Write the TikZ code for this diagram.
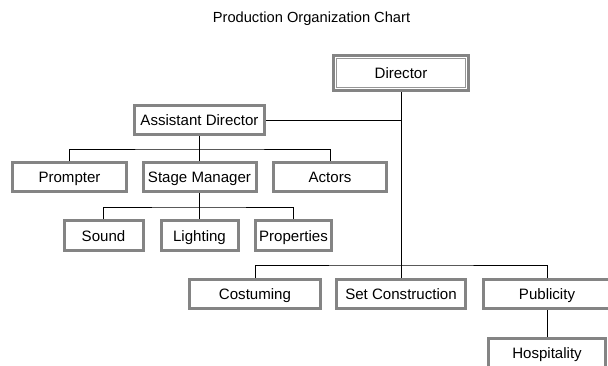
\documentclass[tikz,border=0pt]{standalone}
\usepackage{fontspec}
\setmainfont{Liberation Sans}
\definecolor{boxgray}{RGB}{132,132,132}
\tikzset{
  orgbox/.style={draw=boxgray, line width=2.25pt, fill=white, inner sep=0pt,
    text height=8.6pt, text depth=0pt,
    minimum height=21.75pt, font=\fontsize{11.3}{13}\selectfont},
  frameline/.style={draw=boxgray!85, line width=0.75pt, inner sep=0pt},
  link/.style={draw=black, line width=0.75pt}
}
\begin{document}
\begin{tikzpicture}[x=0.75pt,y=0.75pt,yscale=-1,xscale=1]
\useasboundingbox (0,0) rectangle (608,365);

% Title
\node (title) at (311.5,19) {\fontsize{11}{13}\selectfont Production Organization Chart};

% Director
\node [orgbox, minimum width=101.25pt, minimum height=26.25pt] (director) at (401,73) {Director};
\node [frameline, minimum width=96.75pt, minimum height=21.75pt] (directorframe) at (401,73) {};

% Assistant Director and its branch
\node [orgbox, minimum width=97.5pt] (assistant) at (199.5,120) {Assistant Director};
\node [orgbox, minimum width=85.5pt] (prompter) at (69.5,177) {Prompter};
\node [orgbox, minimum width=84.75pt] (stage) at (199.5,177) {Stage Manager};
\node [orgbox, minimum width=84.75pt] (actors) at (330,177) {Actors};

% Stage Manager crew
\node [orgbox, minimum width=59.25pt, minimum height=22.5pt] (sound) at (103.5,235.5) {Sound};
\node [orgbox, minimum width=57.75pt, minimum height=22.5pt] (lighting) at (199.5,235.5) {Lighting};
\node [orgbox, minimum width=57pt, minimum height=22.5pt] (properties) at (293.5,235.5) {Properties};

% Director departments
\node [orgbox, minimum width=98.25pt] (costuming) at (255,294) {Costuming};
\node [orgbox, minimum width=96.75pt] (setbuild) at (401,294) {Set Construction};
\node [orgbox, minimum width=95.25pt] (publicity) at (547,294) {Publicity};
\node [orgbox, minimum width=87.75pt] (hospitality) at (547,353) {Hospitality};

% Bars
\coordinate (assistantbar) at (199.5,149);
\coordinate (stagebar) at (199.5,207);
\coordinate (directorbar) at (401,265);

% Connectors
\draw [link] (director) -- (setbuild);
\draw [link] (assistant.east) -- (assistant.east -| director.south);
\draw [link] (assistant) -- (stage);
\draw [link] (prompter.north) |- (assistantbar) -| (actors.north);
\draw [link] (stage) -- (lighting);
\draw [link] (sound.north) |- (stagebar) -| (properties.north);
\draw [link] (costuming.north) |- (directorbar) -| (publicity.north);
\draw [link] (publicity) -- (hospitality);
\end{tikzpicture}
\end{document}
